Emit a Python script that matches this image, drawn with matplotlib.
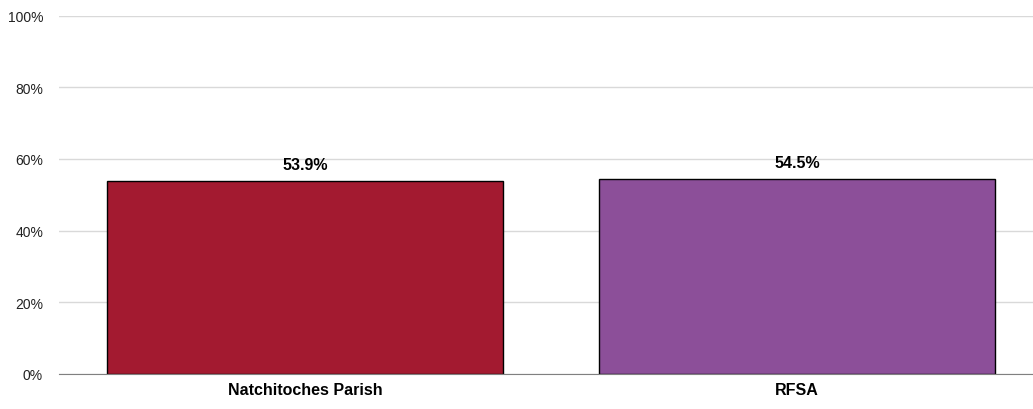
import matplotlib.pyplot as plt
from matplotlib.ticker import FuncFormatter

# valori
categories = ['Natchitoches Parish', 'RFSA']
values = [53.9, 54.5]
bar_colors = ['#A31A30', '#8C4F99']
y_ticks = [0, 20, 40, 60, 80, 100]

plt.rcParams['font.family'] = ['Liberation Sans Narrow', 'Liberation Sans', 'DejaVu Sans']

fig = plt.figure(figsize=(10.33, 4.10), dpi=100)
ax = fig.add_axes([59 / 1033, 35 / 410, 974 / 1033, 358.5 / 410])

x = range(len(categories))
bars = ax.bar(x, values, width=0.805, color=bar_colors, edgecolor='black', linewidth=1, zorder=3)

for b, v in zip(bars, values):
    ax.annotate(f'{v:.1f}%', (b.get_x() + b.get_width() / 2, v), xytext=(0, 6),
                textcoords='offset points', ha='center', va='bottom',
                fontsize=11.5, fontweight='bold')

ax.set_ylim(0, 100)
ax.set_xlim(-0.5, 1.48)
ax.set_yticks(y_ticks)
ax.yaxis.set_major_formatter(FuncFormatter(lambda v, p: f'{v:.0f}%'))
ax.set_xticks(list(x))
ax.set_xticklabels(categories, fontsize=11.5, fontweight='bold')
ax.tick_params(axis='y', length=0, labelsize=10, pad=11.5, labelcolor='#222222')
ax.tick_params(axis='x', length=0, pad=6)

ax.grid(axis='y', color='#D9D9D9', linewidth=1, zorder=0)
for s in ['top', 'right', 'left']:
    ax.spines[s].set_visible(False)
ax.spines['bottom'].set_color('#808080')
ax.spines['bottom'].set_zorder(4)

plt.savefig('out.png', dpi=100)
